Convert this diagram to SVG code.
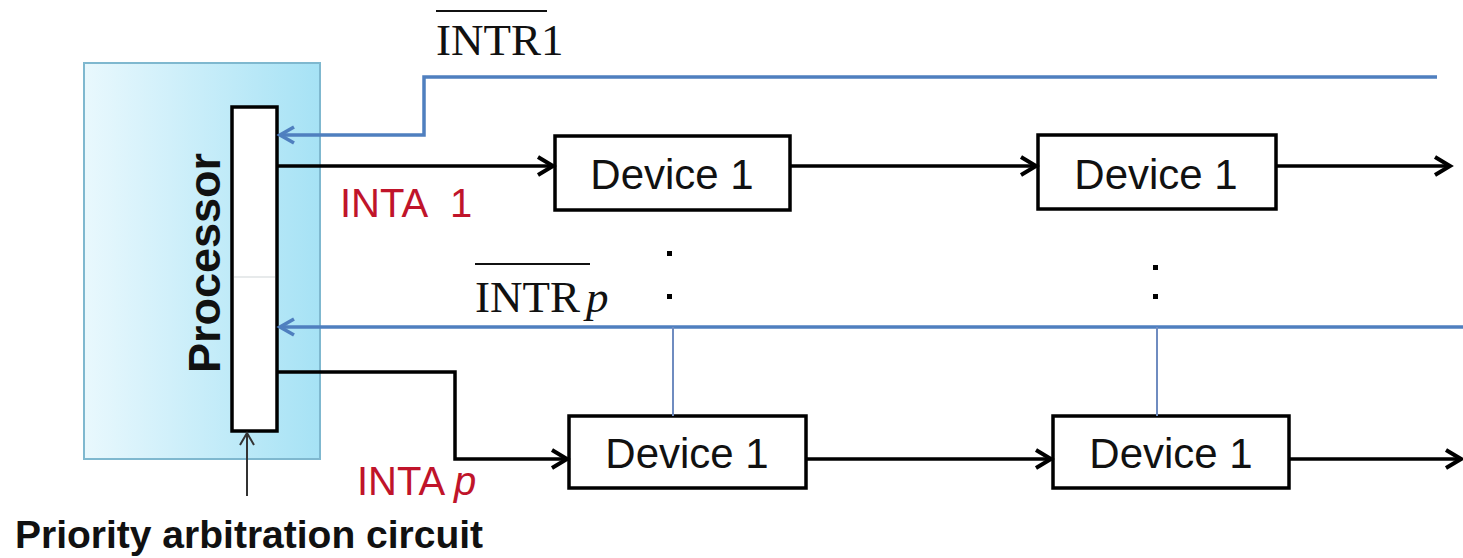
<svg xmlns="http://www.w3.org/2000/svg" width="1463" height="558" viewBox="0 0 1463 558">
  <defs>
    <linearGradient id="procFill" x1="0" y1="0" x2="1" y2="0">
      <stop offset="0" stop-color="#e9f8fd"/>
      <stop offset="1" stop-color="#a6e2f5"/>
    </linearGradient>
    <marker id="ahBlack" viewBox="0 0 24 24" refX="19" refY="12" markerWidth="24" markerHeight="24" markerUnits="userSpaceOnUse" orient="auto">
      <path d="M4,3 L19,12 L4,21" fill="none" stroke="#000" stroke-width="4"/>
    </marker>
    <marker id="ahBlue" viewBox="0 0 24 24" refX="19" refY="12" markerWidth="24" markerHeight="24" markerUnits="userSpaceOnUse" orient="auto">
      <path d="M5,4 L19,12 L5,20" fill="none" stroke="#4f7fbf" stroke-width="3.6"/>
    </marker>
    <marker id="ahThin" viewBox="0 0 20 20" refX="16" refY="10" markerWidth="20" markerHeight="20" markerUnits="userSpaceOnUse" orient="auto">
      <path d="M4,3 L16,10 L4,17" fill="none" stroke="#333" stroke-width="2"/>
    </marker>
  </defs>
  <style>
    .dev { fill: #fff; stroke: #000; stroke-width: 3.5; }
    .devText { font-family: "Liberation Sans", Arial, sans-serif; font-size: 42px; fill: #111; text-anchor: middle; }
    .wire { fill: none; stroke: #000; stroke-width: 3.5; }
    .bus { fill: none; stroke: #4f7fbf; stroke-width: 3.5; }
    .tap { fill: none; stroke: #6f8cc0; stroke-width: 2; }
    .sig { font-family: "Liberation Serif", "Times New Roman", serif; font-size: 45px; fill: #111; }
    .ack { font-family: "Liberation Sans", Arial, sans-serif; font-size: 40px; fill: #c0142a; }
    .dot { fill: #000; }
  </style>

  <rect width="1463" height="558" fill="#fff"/>

  <!-- processor with its priority arbitration bar -->
  <g id="processor">
    <rect x="84" y="63" width="236" height="396" fill="url(#procFill)" stroke="#7fb8cf" stroke-width="2"/>
    <text transform="translate(220,263) rotate(-90)" font-family="Liberation Sans, Arial, sans-serif" font-weight="bold" font-size="45" text-anchor="middle" fill="#111">Processor</text>
  </g>
  <g id="arbiter">
    <rect x="232" y="107" width="45" height="324" fill="#fff" stroke="#000" stroke-width="3.5"/>
    <line x1="234" y1="277" x2="275" y2="277" stroke="#cfd6d8" stroke-width="1.2"/>
  </g>

  <!-- device chain 1 -->
  <g id="dev-1a">
    <rect class="dev" x="555" y="136" width="235" height="74"/>
    <text class="devText" x="672" y="189">Device 1</text>
  </g>
  <g id="dev-1b">
    <rect class="dev" x="1038" y="135" width="238" height="74"/>
    <text class="devText" x="1156" y="189">Device 1</text>
  </g>

  <!-- device chain p -->
  <g id="dev-pa">
    <rect class="dev" x="569" y="416" width="237" height="72"/>
    <text class="devText" x="687" y="468">Device 1</text>
  </g>
  <g id="dev-pb">
    <rect class="dev" x="1053" y="416" width="236" height="72"/>
    <text class="devText" x="1171" y="468">Device 1</text>
  </g>

  <!-- connectors -->
  <g id="connectors">
    <path class="bus" d="M1437,77 H424 V135 H280" marker-end="url(#ahBlue)"/>
    <path class="bus" d="M1463,327 H280" marker-end="url(#ahBlue)"/>
    <path class="tap" d="M673,327 V416"/>
    <path class="tap" d="M1157,327 V416"/>

    <path class="wire" d="M277,166 H553" marker-end="url(#ahBlack)"/>
    <path class="wire" d="M790,166 H1036" marker-end="url(#ahBlack)"/>
    <path class="wire" d="M1276,166 H1450" marker-end="url(#ahBlack)"/>

    <path class="wire" d="M277,372 H455 V459 H567" marker-end="url(#ahBlack)"/>
    <path class="wire" d="M806,459 H1051" marker-end="url(#ahBlack)"/>
    <path class="wire" d="M1289,459 H1461" marker-end="url(#ahBlack)"/>

    <path d="M247,496 V433" fill="none" stroke="#333" stroke-width="2" marker-end="url(#ahThin)"/>
  </g>

  <!-- vertical ellipses between the chains -->
  <g id="ellipses">
    <rect class="dot" x="667" y="251" width="5" height="5"/>
    <rect class="dot" x="667" y="294" width="5" height="5"/>
    <rect class="dot" x="1153" y="265" width="5" height="5"/>
    <rect class="dot" x="1153" y="294" width="5" height="5"/>
  </g>

  <!-- signal labels -->
  <g id="labels">
    <text class="sig" x="436" y="55">INTR1</text>
    <line x1="436" y1="11" x2="547" y2="11" stroke="#111" stroke-width="2"/>
    <text class="sig" x="475" y="312">INTR<tspan dx="6" font-style="italic">p</tspan></text>
    <line x1="475" y1="264" x2="590" y2="264" stroke="#111" stroke-width="2"/>
    <text class="ack" x="340" y="217">INTA<tspan x="450">1</tspan></text>
    <text class="ack" x="357" y="495">INTA <tspan font-style="italic">p</tspan></text>
    <text x="15" y="548" font-family="Liberation Sans, Arial, sans-serif" font-weight="bold" font-size="39" fill="#111">Priority arbitration circuit</text>
  </g>
</svg>
